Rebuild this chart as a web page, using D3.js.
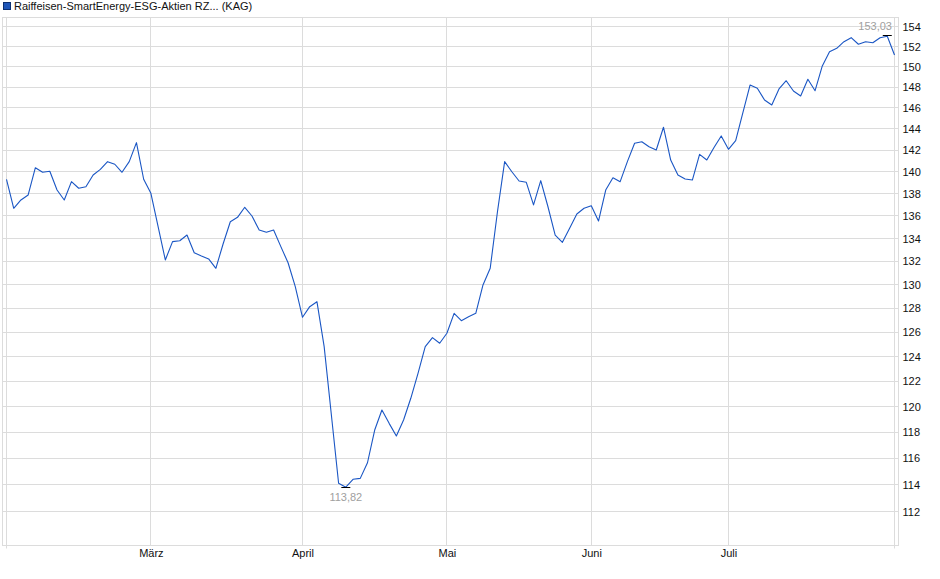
<!DOCTYPE html>
<html>
<head>
<meta charset="utf-8">
<title>Raiffeisen-SmartEnergy-ESG-Aktien</title>
<script src="https://cdn.jsdelivr.net/npm/d3@7"></script>
<style>
  body { margin: 0; background: #fff; }
  svg { display: block; font-family: 'Liberation Sans', Arial, sans-serif; }
</style>
</head>
<body>
<div id="chart"></div>
<script>
'use strict';

// fund price per trading day, Feb 3 - Aug 1
var prices = [
  139.32, 136.69, 137.44, 137.89, 140.38, 139.96, 140.05, 138.34, 137.44, 139.10,
  138.50, 138.64, 139.71, 140.23, 140.94, 140.70, 139.96, 140.94, 142.71, 139.32,
  138.04, 135.05, 132.13, 133.73, 133.81, 134.31, 132.76, 132.48, 132.22, 131.41,
  133.52, 135.49, 135.88, 136.78, 136.00, 134.76, 134.55, 134.76, 133.29, 131.89,
  129.83, 127.25, 128.14, 128.56, 124.82, 119.34, 114.11, 113.82, 114.41, 114.48,
  115.66, 118.17, 119.74, 118.69, 117.71, 118.95, 120.66, 122.65, 124.82, 125.56,
  125.10, 125.92, 127.58, 126.97, 127.30, 127.58, 129.98, 131.41, 136.36, 140.94,
  140.01, 139.16, 139.04, 136.99, 139.19, 136.83, 134.31, 133.67, 134.91, 136.18,
  136.69, 136.92, 135.55, 138.34, 139.46, 139.10, 140.94, 142.65, 142.80, 142.33,
  142.02, 144.16, 141.09, 139.71, 139.35, 139.25, 141.62, 141.09, 142.26, 143.34,
  142.09, 142.89, 145.55, 148.22, 147.90, 146.76, 146.28, 147.83, 148.63, 147.63,
  147.15, 148.77, 147.66, 150.08, 151.49, 151.83, 152.49, 152.89, 152.23, 152.49,
  152.39, 152.89, 153.03, 151.16
];

// first trading day of each month (index into prices)
var monthLabels = ['März', 'April', 'Mai', 'Juni', 'Juli'];
var monthIdx = [20, 41, 61, 81, 100];

var yTicks = [112, 114, 116, 118, 120, 122, 124, 126, 128, 130, 132,
  134, 136, 138, 140, 142, 144, 146, 148, 150, 152, 154];

var legendLabel = 'Raiffeisen-SmartEnergy-ESG-Aktien RZ... (KAG)';

var width = 940;
var height = 579;
var frame = { left: 2.5, right: 898.5, top: 17.5, bottom: 545.5 };
var lineColor = '#1a56c4';
var gridColor = '#dcdcdc';

var de = d3.formatLocale({ decimal: ',', thousands: '.', grouping: [3], currency: ['', ' €'] });
var fmt = de.format(',.2f');

var svg = d3.select('#chart').
  append('svg').
  attr('width', width).
  attr('height', height);

var x = d3.scaleLinear().
  domain([0, prices.length - 1]).
  range([6.5, 894.5]);

var y = d3.scaleLog().
  domain([109.53, 154.95]).
  range([frame.bottom + 0.2, frame.top - 0.2]);

function snap (v) { return Math.floor(v) + 0.5; }

// horizontal grid
svg.append('g').
  selectAll('line').
  data(yTicks).
  enter().
  append('line').
  attr('x1', frame.left).
  attr('x2', frame.right).
  attr('y1', function (d) { return snap(y(d)); }).
  attr('y2', function (d) { return snap(y(d)); }).
  attr('stroke', gridColor).
  attr('stroke-width', 1);

// vertical month grid
svg.append('g').
  selectAll('line').
  data(monthIdx).
  enter().
  append('line').
  attr('x1', function (d) { return snap(x(d)); }).
  attr('x2', function (d) { return snap(x(d)); }).
  attr('y1', frame.top).
  attr('y2', frame.bottom).
  attr('stroke', gridColor).
  attr('stroke-width', 1);

// first and last day lines, running a bit below the frame
svg.append('g').
  selectAll('line').
  data([0, prices.length - 1]).
  enter().
  append('line').
  attr('x1', function (d) { return snap(x(d)); }).
  attr('x2', function (d) { return snap(x(d)); }).
  attr('y1', frame.top).
  attr('y2', frame.bottom + 3).
  attr('stroke', gridColor).
  attr('stroke-width', 1);

// frame
svg.append('rect').
  attr('x', frame.left).
  attr('y', frame.top).
  attr('width', frame.right - frame.left).
  attr('height', frame.bottom - frame.top).
  attr('fill', 'none').
  attr('stroke', gridColor).
  attr('stroke-width', 1);

// right axis
var yAxis = svg.append('g').
  attr('transform', 'translate(' + frame.right + ',0)').
  call(d3.axisRight(y).
    tickValues(yTicks).
    tickFormat(d3.format('d')).
    tickSize(0).
    tickPadding(4));
yAxis.select('.domain').remove();
yAxis.selectAll('text').
  attr('fill', '#111').
  style('font-size', '11px').
  style('font-family', "'Liberation Sans', Arial, sans-serif");

// bottom axis
var xAxis = svg.append('g').
  attr('transform', 'translate(0,' + frame.bottom + ')').
  call(d3.axisBottom(x).
    tickValues(monthIdx).
    tickFormat(function (d, i) { return monthLabels[i]; }).
    tickSize(0).
    tickPadding(4));
xAxis.select('.domain').remove();
xAxis.selectAll('text').
  attr('fill', '#111').
  style('font-size', '11px').
  style('font-family', "'Liberation Sans', Arial, sans-serif");

// price line
var line = d3.line().
  x(function (d, i) { return x(i); }).
  y(function (d) { return y(d); });

svg.append('path').
  datum(prices).
  attr('d', line).
  attr('fill', 'none').
  attr('stroke', lineColor).
  attr('stroke-width', 1.1).
  attr('stroke-linejoin', 'round');

// min / max markers
var iMin = d3.minIndex(prices);
var iMax = d3.maxIndex(prices);

function marker (i, above) {
  var px = x(i);
  var py = y(prices[i]);
  svg.append('line').
    attr('x1', px - 4.5).
    attr('x2', px + 4.5).
    attr('y1', snap(py) - (above ? 1 : 0)).
    attr('y2', snap(py) - (above ? 1 : 0)).
    attr('stroke', '#000').
    attr('stroke-width', 1);
  var t = svg.append('text').
    attr('x', px).
    attr('y', above ? py - 6 : py + 13.5).
    attr('text-anchor', 'middle').
    attr('fill', '#a0a0a0').
    style('font-size', '11px').
    text(fmt(prices[i]));
  var w = t.node().getComputedTextLength();
  if (px + w / 2 > 892) {
    t.attr('x', 892 - w / 2);
  }
}
marker(iMin, false);
marker(iMax, true);

// legend
svg.append('rect').
  attr('x', 3.5).
  attr('y', 2.5).
  attr('width', 7).
  attr('height', 7).
  attr('fill', '#1f56b8').
  attr('stroke', '#0d2f70').
  attr('stroke-width', 1);

svg.append('text').
  attr('x', 14).
  attr('y', 10).
  attr('fill', '#111').
  style('font-size', '11px').
  text(legendLabel);
</script>
</body>
</html>
